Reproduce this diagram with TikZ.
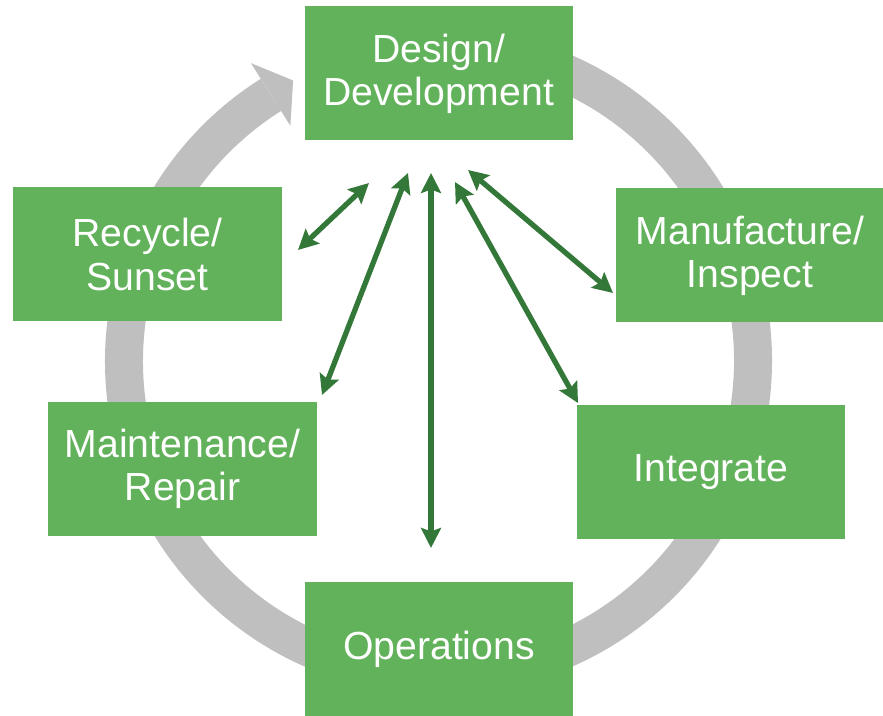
\documentclass[tikz,border=0pt]{standalone}
\usepackage{fontspec}
\setmainfont{Liberation Sans}
\usetikzlibrary{arrows.meta}
\definecolor{boxgreen}{RGB}{97,178,90}
\definecolor{arrowgreen}{RGB}{52,120,57}
\definecolor{ringgray}{RGB}{191,191,191}

\begin{document}
\begin{tikzpicture}[x=0.2mm, y=0.2mm,
  stage/.style={fill=boxgreen, text=white, align=center, inner sep=0pt,
    minimum width=5.36cm, minimum height=2.68cm, font=\fontsize{22.3}{24.5}\selectfont},
  link/.style={<->, >={Stealth[length=4mm,width=4mm,inset=0.7mm]}, line width=3pt, arrowgreen}]
  \useasboundingbox (0,0) rectangle (883,716);
  % grey cycle ring with its head
  \draw [line width=7.6mm, ringgray] (438.5,355) ++(85:314.5) arc [start angle=85, end angle=-237.8, radius=6.29cm];
  \fill [ringgray, shift={(438.5,355)}] (122.2:352) -- (117.4:316) -- (122.2:278) -- cycle;

  \node [stage] (design) at (438.5,642.5) {Design/\\Development};
  \node [stage] (recycle) at (147.5,461.5) {Recycle/\\Sunset};
  \node [stage] (manufacture) at (750,460.5) {Manufacture/\\Inspect};
  \node [stage] (maintenance) at (182.5,247) {Maintenance/\\Repair};
  \node [stage] (integrate) at (711,243.5) {Integrate};
  \node [stage] (operations) at (439,66.5) {Operations};

  % arrow ends
  \coordinate (hub rec) at (369,533);  \coordinate (rec) at (298,466);
  \coordinate (hub mai) at (408,543);  \coordinate (mai) at (322,321);
  \coordinate (hub ops) at (431,543);  \coordinate (ops) at (431,168);
  \coordinate (hub int) at (455,534);  \coordinate (int) at (578,313);
  \coordinate (hub man) at (468,546);  \coordinate (man) at (613,423);

  \draw [link] (rec) -- (hub rec);
  \draw [link] (mai) -- (hub mai);
  \draw [link] (ops) -- (hub ops);
  \draw [link] (int) -- (hub int);
  \draw [link] (man) -- (hub man);
\end{tikzpicture}
\end{document}
